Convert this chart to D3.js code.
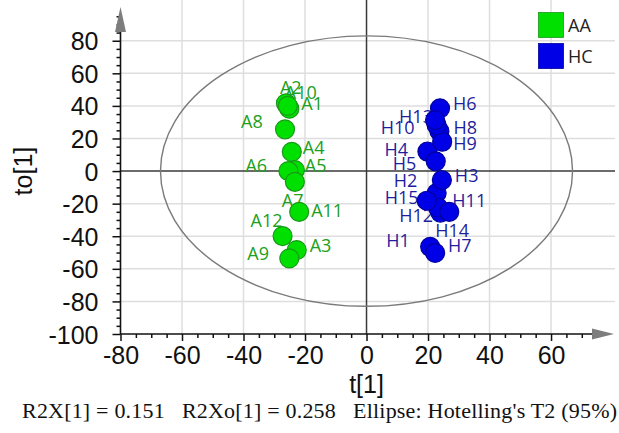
<!DOCTYPE html>
<html>
<head>
<meta charset="utf-8">
<script src="https://cdn.jsdelivr.net/npm/d3@7"></script>
<style>
  html, body { margin: 0; padding: 0; background: #ffffff; }
  svg { display: block; }
</style>
</head>
<body>
<svg id="chart" width="619" height="433"></svg>
<script>
// OPLS-DA score plot: predictive component t[1] vs orthogonal component to[1]
const groups = ["AA", "HC"];
const groupColors = ["#00e000", "#0000e6"];
const groupStrokes = ["#189a18", "#00009c"];
const groupLabelColors = ["#20a020", "#1f1f9e"];

const aaNames = ["A1", "A2", "A3", "A4", "A5", "A6", "A7", "A8", "A9", "A10", "A11", "A12"];
const aaT =     [-25.1, -26.2, -22.7, -24.3, -23.3, -25.4, -23.3, -26.5, -25.1, -25.6, -21.9, -27.3];
const aaTo =    [ 38.3,  41.6, -48.5,  11.8,   0.6,   0.0,  -6.6,  25.6, -53.6,  40.0, -25.0, -39.9];

const hcNames = ["H1", "H2", "H3", "H4", "H5", "H6", "H7", "H8", "H9", "H10", "H11", "H12", "H13", "H14", "H15"];
const hcT =     [20.7, 22.8, 24.5, 19.8, 22.5, 23.9, 22.3, 23.7, 24.6, 22.8, 24.0, 23.3, 22.3, 26.9, 19.6];
const hcTo =    [-46.5, -13.5, -5.5, 12.0, 6.0, 38.5, -50.2, 24.5, 18.0, 28.2, -25.5, -22.5, 31.3, -25.0, -18.2];

const xTicks = [-80, -60, -40, -20, 0, 20, 40, 60];
const yTicks = [-100, -80, -60, -40, -20, 0, 20, 40, 60, 80];
const xMinor = d3.range(-75, 80, 5).filter(v => v % 20 !== 0);
const yMinor = d3.range(-95, 100, 5).filter(v => v % 20 !== 0);

// Hotelling's T2 (95%) ellipse semi-axes, in score units
const ellipseT = 67;
const ellipseTo = 83;

const xTitle = "t[1]";
const yTitle = "to[1]";
const caption = "R2X[1] = 0.151   R2Xo[1] = 0.258   Ellipse: Hotelling's T2 (95%)";

// label placement relative to each marker (pixels): [dx, baseline dy]
const labelPlace = {
  A1: [12, 1], A2: [-6, -9], A3: [13, 2], A4: [11, 2], A5: [10, 2], A6: [-43, 1],
  A7: [-13, 25], A8: [-44, -1], A9: [-42, 2], A10: [-3, -7], A11: [12, 5], A12: [-32, -9],
  H1: [-44, 0], H2: [-43, -6], H3: [13, 2], H4: [-43, 4], H5: [-43, 9], H6: [13, 2],
  H7: [13, -1], H8: [14, 3], H9: [11, 8], H10: [-56, 9], H11: [12, -6], H12: [-39, 14],
  H13: [-36, 3], H14: [-14, 25], H15: [-42, 3]
};

const points = [];
aaNames.forEach((n, i) => points.push({ name: n, g: 0, t: aaT[i], to: aaTo[i] }));
hcNames.forEach((n, i) => points.push({ name: n, g: 1, t: hcT[i], to: hcTo[i] }));

const svg = d3.select("#chart");
const plotLeft = 120.5, plotRight = 615, plotTop = 0, plotBottom = 334;

const x = d3.scaleLinear().domain([-80, 80.8]).range([plotLeft, plotRight]);
const y = d3.scaleLinear().domain([-100, 105]).range([plotBottom, plotTop]);

const tickFont = "'Liberation Sans', Arial, sans-serif";
const labelFont = "'Open Sans', 'Noto Sans', sans-serif";

// grid
const grid = svg.append("g").attr("stroke", "#dedede").attr("stroke-width", 1.5);
grid.selectAll("line.v").data(xTicks.filter(v => v !== -80 && v !== 0)).join("line")
  .attr("class", "v")
  .attr("x1", d => x(d)).attr("x2", d => x(d)).attr("y1", plotTop).attr("y2", plotBottom);
grid.selectAll("line.h").data(yTicks.filter(v => v !== -100 && v !== 0)).join("line")
  .attr("class", "h")
  .attr("x1", plotLeft).attr("x2", plotRight).attr("y1", d => y(d)).attr("y2", d => y(d));

// zero lines
const zero = svg.append("g").attr("stroke", "#3a3a3a").attr("stroke-width", 1.5);
zero.append("line").attr("x1", x(0)).attr("x2", x(0)).attr("y1", plotTop).attr("y2", plotBottom);
zero.append("line").attr("x1", plotLeft).attr("x2", plotRight).attr("y1", y(0)).attr("y2", y(0));

// confidence ellipse
svg.append("ellipse")
  .attr("cx", x(0)).attr("cy", y(0))
  .attr("rx", x(ellipseT) - x(0)).attr("ry", y(0) - y(ellipseTo))
  .attr("fill", "none").attr("stroke", "#7a7a7a").attr("stroke-width", 1.4);

// point labels (drawn beneath the markers)
svg.append("g").selectAll("text").data(points).join("text")
  .attr("x", d => x(d.t) + labelPlace[d.name][0])
  .attr("y", d => y(d.to) + labelPlace[d.name][1])
  .attr("font-family", labelFont).attr("font-size", 18)
  .attr("fill", d => groupLabelColors[d.g])
  .text(d => d.name);

// markers
svg.append("g").selectAll("circle").data(points).join("circle")
  .attr("cx", d => x(d.t)).attr("cy", d => y(d.to)).attr("r", 9.5)
  .attr("fill", d => groupColors[d.g])
  .attr("stroke", d => groupStrokes[d.g]).attr("stroke-width", 1.2);

// axes
const fmt = d => String(d);
const yAxis = svg.append("g").attr("transform", `translate(${plotLeft},0)`)
  .call(d3.axisLeft(y).tickValues(yTicks).tickSize(8).tickPadding(14).tickFormat(fmt));
yAxis.select(".domain").remove();
const yMinorAxis = svg.append("g").attr("transform", `translate(${plotLeft},0)`)
  .call(d3.axisLeft(y).tickValues(yMinor).tickSize(4).tickFormat(""));
yMinorAxis.select(".domain").remove();

const xAxis = svg.append("g").attr("transform", `translate(0,${plotBottom})`)
  .call(d3.axisBottom(x).tickValues(xTicks).tickSize(7).tickPadding(5).tickFormat(fmt));
xAxis.select(".domain").remove();
const xMinorAxis = svg.append("g").attr("transform", `translate(0,${plotBottom})`)
  .call(d3.axisBottom(x).tickValues(xMinor).tickSize(4).tickFormat(""));
xMinorAxis.select(".domain").remove();

[yAxis, yMinorAxis, xAxis, xMinorAxis].forEach(a => {
  a.selectAll("line").attr("stroke", "#111").attr("stroke-width", 1.5);
  a.selectAll("text").attr("font-family", tickFont).attr("font-size", 25).attr("fill", "#111");
});
yAxis.selectAll("text").attr("dy", "0.36em");

// axis lines with arrowheads
svg.append("line").attr("x1", plotLeft).attr("x2", plotLeft).attr("y1", plotBottom).attr("y2", 31)
  .attr("stroke", "#111").attr("stroke-width", 1.6);
svg.append("line").attr("x1", plotLeft).attr("x2", 593).attr("y1", plotBottom).attr("y2", plotBottom)
  .attr("stroke", "#111").attr("stroke-width", 1.6);
svg.append("path").attr("d", `M${plotLeft - 5.5},32 L${plotLeft},7 L${plotLeft + 5.5},32 Z`).attr("fill", "#7d7d7d");
svg.append("path").attr("d", `M592,${plotBottom - 5.5} L614,${plotBottom} L592,${plotBottom + 5.5} Z`).attr("fill", "#7d7d7d");

// axis titles
svg.append("text").attr("x", x(0)).attr("y", 393).attr("text-anchor", "middle")
  .attr("font-family", tickFont).attr("font-size", 25).attr("fill", "#111").text(xTitle);
svg.append("text").attr("transform", `translate(32,${y(0)}) rotate(-90)`).attr("text-anchor", "middle")
  .attr("font-family", tickFont).attr("font-size", 25).attr("fill", "#111").text(yTitle);

// caption
svg.append("text").attr("x", 22).attr("y", 418)
  .attr("font-family", "'Liberation Serif', 'Times New Roman', serif").attr("font-size", 22)
  .attr("textLength", 595).attr("lengthAdjust", "spacing")
  .attr("fill", "#111").style("white-space", "pre").text(caption);

// legend
const legend = svg.append("g");
groups.forEach((g, i) => {
  legend.append("rect").attr("x", 538.5).attr("y", 12.5 + i * 31).attr("width", 25).attr("height", 25)
    .attr("fill", groupColors[i]).attr("stroke", groupStrokes[i]).attr("stroke-width", 0.8);
  legend.append("text").attr("x", 568).attr("y", 32 + i * 31)
    .attr("font-family", labelFont).attr("font-size", 18).attr("fill", "#222").text(g);
});
</script>
</body>
</html>
